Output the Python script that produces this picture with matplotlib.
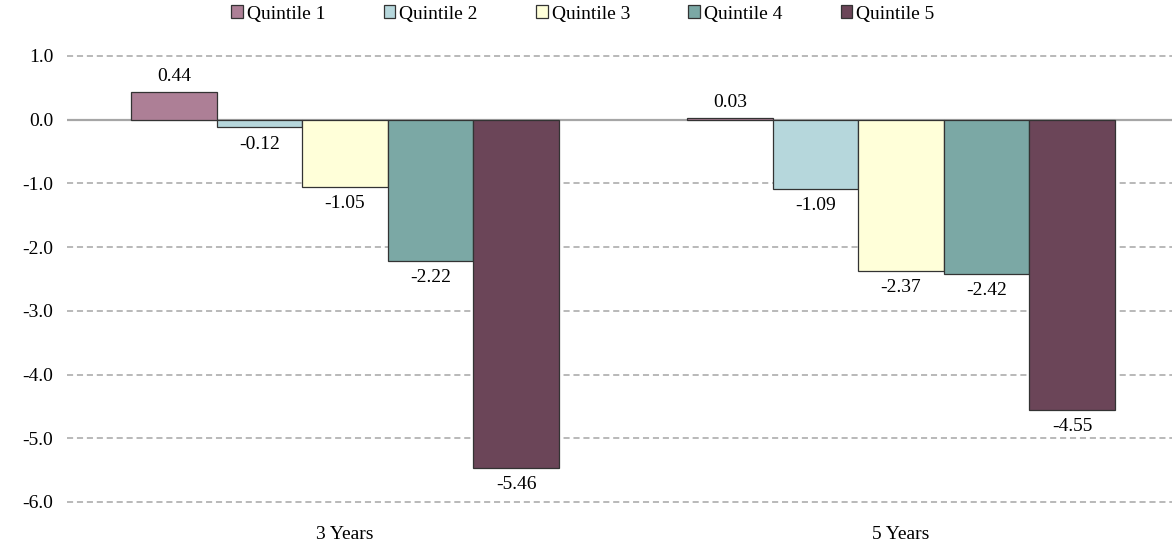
import numpy as np
import matplotlib.pyplot as plt

plt.rcParams['font.family'] = ['Liberation Serif', 'DejaVu Serif']

periods = ['3 Years', '5 Years']
quintiles = ['Quintile 1', 'Quintile 2', 'Quintile 3', 'Quintile 4', 'Quintile 5']
values = [
    [0.44, 0.03],
    [-0.12, -1.09],
    [-1.05, -2.37],
    [-2.22, -2.42],
    [-5.46, -4.55],
]
colors = ['#AD7F96', '#B6D7DC', '#FFFFD9', '#7BA8A5', '#6B4558']
yticks = [1.0, 0.0, -1.0, -2.0, -3.0, -4.0, -5.0, -6.0]

W, H = 1172, 546
fs = 14
fig = plt.figure(figsize=(W / 100, H / 100), dpi=100)
ax = fig.add_axes([67 / W, 1 - 502 / H, (1179 - 67) / W, (502 - 56) / H])

x = np.arange(len(periods))
bw = 0.77 / len(quintiles)
for i, (q, vals) in enumerate(zip(quintiles, values)):
    pos = x - 0.385 + bw * (i + 0.5)
    bars = ax.bar(pos, vals, bw, color=colors[i], edgecolor='#333333',
                  linewidth=0.9, label=q, zorder=3)
    for b, v in zip(bars, vals):
        if v >= 0:
            ax.annotate(f'{v:.2f}', (b.get_x() + b.get_width() / 2, v),
                        xytext=(0, 5), textcoords='offset points',
                        ha='center', va='bottom', fontsize=fs)
        else:
            ax.annotate(f'{v:.2f}', (b.get_x() + b.get_width() / 2, v),
                        xytext=(0, -6), textcoords='offset points',
                        ha='center', va='top', fontsize=fs)

ax.set_xlim(-0.5, 1.5)
ax.set_ylim(-6.0, 1.0)
ax.set_yticks(yticks)
ax.set_yticklabels([f'{t:.1f}' for t in yticks], fontsize=fs)
ax.set_xticks(x)
ax.set_xticklabels(periods, fontsize=fs)
ax.tick_params(length=0, pad=10)
ax.tick_params(axis='x', pad=17)
ax.yaxis.grid(True, linestyle=(0, (4, 2.5)), color='#A6A6A6', linewidth=1.1)
for gl in ax.get_ygridlines():
    gl.set_clip_on(False)
ax.axhline(0, color='#A6A6A6', linewidth=1.6, zorder=2)
ax.set_axisbelow(True)
for s in ax.spines.values():
    s.set_visible(False)

ax.legend(loc='center', bbox_to_anchor=((583 - 67) / (1179 - 67), 1 + 42 / 446),
          ncol=5, frameon=False, fontsize=fs, handlelength=0.6,
          handleheight=0.6, handletextpad=0.2, columnspacing=3.0,
          borderaxespad=0)

fig.savefig('out.png', dpi=100)
